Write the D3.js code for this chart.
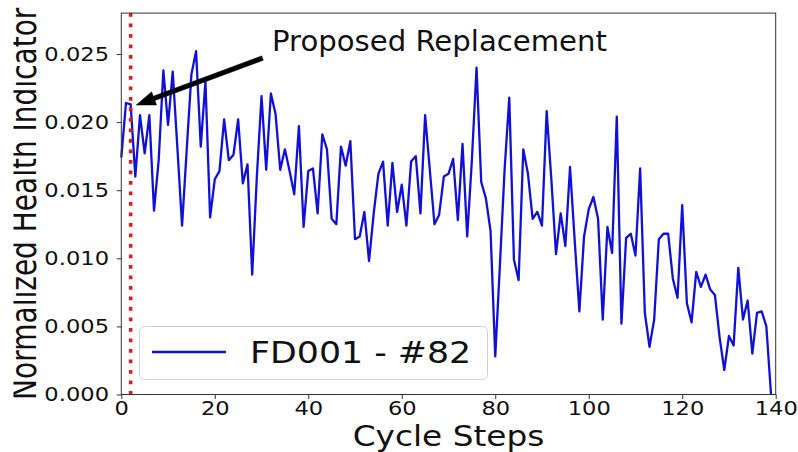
<!DOCTYPE html>
<html>
<head>
<meta charset="utf-8">
<script src="https://cdn.jsdelivr.net/npm/d3@7"></script>
<style>
  html, body { margin: 0; padding: 0; background: #fff; }
  svg { display: block; font-family: "DejaVu Sans", sans-serif; }
</style>
</head>
<body>
<svg id="chart" width="798" height="452"></svg>
<script>
// ---- data ----
const cycleValues = [
  0.0174, 0.0214, 0.0213, 0.0160, 0.0205, 0.0177, 0.0205, 0.0135, 0.0172, 0.0238,
  0.0198, 0.0237, 0.0181, 0.0124, 0.0180, 0.0235, 0.0252, 0.0182, 0.0230, 0.0130,
  0.0158, 0.0164, 0.0202, 0.0172, 0.0176, 0.0202, 0.0155, 0.0169, 0.0088, 0.0160,
  0.0219, 0.0165, 0.0221, 0.0206, 0.0165, 0.0180, 0.0164, 0.0147, 0.0197, 0.0123,
  0.0164, 0.0166, 0.0133, 0.0191, 0.0180, 0.0129, 0.0125, 0.0182, 0.0168, 0.0186,
  0.0114, 0.0116, 0.0134, 0.0098, 0.0133, 0.0162, 0.0171, 0.0124, 0.0170, 0.0134,
  0.0154, 0.0124, 0.0171, 0.0175, 0.0133, 0.0205, 0.0165, 0.0125, 0.0132, 0.0160,
  0.0162, 0.0173, 0.0128, 0.0184, 0.0116, 0.0172, 0.0240, 0.0156, 0.0144, 0.0120,
  0.0028, 0.0095, 0.0165, 0.0218, 0.0099, 0.0084, 0.0180, 0.0162, 0.0129, 0.0134,
  0.0124, 0.0208, 0.0158, 0.0103, 0.0133, 0.0109, 0.0167, 0.0113, 0.0061, 0.0116,
  0.0136, 0.0145, 0.0129, 0.0055, 0.0123, 0.0104, 0.0204, 0.0052, 0.0115, 0.0118,
  0.0102, 0.0166, 0.0060, 0.0035, 0.0055, 0.0114, 0.0118, 0.0118, 0.0085, 0.0071,
  0.0139, 0.0067, 0.0053, 0.0090, 0.0079, 0.0088, 0.0077, 0.0073, 0.0042, 0.0018,
  0.0043, 0.0036, 0.0093, 0.0055, 0.0069, 0.0030, 0.0060, 0.0061, 0.0050, 0.0000
];
const seriesName = "FD001 - #82";
const replacementCycle = 2;
const xTicks = [0, 20, 40, 60, 80, 100, 120, 140];
const yTicks = [0.000, 0.005, 0.010, 0.015, 0.020, 0.025];
const xDomain = [0, 140];
const yDomain = [0, 0.028];
const xTitle = "Cycle Steps";
const yTitle = "Normalized Health Indicator";
const annotationText = "Proposed Replacement";

// ---- layout ----
const svg = d3.select("#chart");
const L = 121.3, R = 775.7, T = 13.1, B = 394.5;
const x = d3.scaleLinear().domain(xDomain).range([L, R]);
const y = d3.scaleLinear().domain(yDomain).range([B, T]);
const ink = "#111";

// clip for the y title (its tops are cut in the reference)
const defs = svg.append("defs");
defs.append("clipPath").attr("id", "ytclip")
  .append("rect").attr("x", 13.5).attr("y", 0).attr("width", 200).attr("height", 452);

// line series
const line = d3.line().x((d, i) => x(i)).y(d => y(d));
svg.append("path")
  .datum(cycleValues)
  .attr("d", line)
  .attr("fill", "none")
  .attr("stroke", "#1010d8")
  .attr("stroke-width", 2.3)
  .attr("stroke-linejoin", "round");

// replacement marker (red dotted)
svg.append("line")
  .attr("x1", x(replacementCycle)).attr("x2", x(replacementCycle))
  .attr("y1", y(yDomain[1])).attr("y2", y(yDomain[0]))
  .attr("stroke", "#dd1c1c")
  .attr("stroke-width", 3.6)
  .attr("stroke-dasharray", "3.6 6.9");

// axes frame
svg.append("rect")
  .attr("x", L).attr("y", T).attr("width", R - L).attr("height", B - T)
  .attr("fill", "none").attr("stroke", "#333").attr("stroke-width", 1);

// x axis
const xAxis = svg.append("g")
  .attr("transform", `translate(0,${B})`)
  .call(d3.axisBottom(x).tickValues(xTicks).tickFormat(d3.format("d")).tickSize(4.5).tickPadding(1.5));
xAxis.select(".domain").remove();
xAxis.selectAll("line").attr("stroke", "#333");
xAxis.selectAll("text")
  .attr("fill", ink).attr("font-size", 20).attr("font-family", "DejaVu Sans")
  .attr("transform", "scale(1.13,1)");

// y axis
const yAxis = svg.append("g")
  .attr("transform", `translate(${L},0)`)
  .call(d3.axisLeft(y).tickValues(yTicks).tickFormat(d3.format(".3f")).tickSize(4.5));
yAxis.select(".domain").remove();
yAxis.selectAll("line").attr("stroke", "#333");
yAxis.selectAll("text")
  .attr("fill", ink).attr("font-size", 20).attr("font-family", "DejaVu Sans")
  .attr("x", -12.3 / 1.13)
  .attr("transform", "scale(1.13,1)");

// axis titles
svg.append("text")
  .attr("transform", `translate(${(L + R) / 2},446) scale(1.13,1)`)
  .attr("text-anchor", "middle")
  .attr("font-size", 29).attr("fill", ink)
  .text(xTitle);

svg.append("g").attr("clip-path", "url(#ytclip)")
  .append("text")
  .attr("transform", `translate(35.5,${(T + B) / 2}) scale(1.25,1) rotate(-90)`)
  .attr("text-anchor", "middle")
  .attr("font-size", 28).attr("fill", ink)
  .text(yTitle);

// annotation arrow
const tip = [x(3.2), y(0.02125)];
const tail = [x(30.2), y(0.0247)];
(function drawArrow() {
  const dx = tip[0] - tail[0], dy = tip[1] - tail[1];
  const len = Math.hypot(dx, dy);
  const ux = dx / len, uy = dy / len;
  const nx = -uy, ny = ux;
  const shaftW = 4.6, headW = 14, headL = 19;
  const bx = tip[0] - ux * headL, by = tip[1] - uy * headL;
  const pts = [
    [tail[0] + nx * shaftW / 2, tail[1] + ny * shaftW / 2],
    [bx + nx * shaftW / 2, by + ny * shaftW / 2],
    [bx + nx * headW / 2, by + ny * headW / 2],
    tip,
    [bx - nx * headW / 2, by - ny * headW / 2],
    [bx - nx * shaftW / 2, by - ny * shaftW / 2],
    [tail[0] - nx * shaftW / 2, tail[1] - ny * shaftW / 2]
  ];
  svg.append("polygon")
    .attr("points", pts.map(p => p.join(",")).join(" "))
    .attr("fill", "#000").attr("stroke", "#000").attr("stroke-width", 0.5);
})();

svg.append("text")
  .attr("transform", "translate(272,51) scale(1.06,1)")
  .attr("font-size", 27.5).attr("fill", ink)
  .text(annotationText);

// legend
const lg = svg.append("g");
lg.append("rect")
  .attr("x", 139.5).attr("y", 326.5).attr("width", 348).attr("height", 53).attr("rx", 5)
  .attr("fill", "#fff").attr("fill-opacity", 0.85)
  .attr("stroke", "#d0d0d0").attr("stroke-width", 1);
lg.append("line")
  .attr("x1", 152).attr("x2", 226).attr("y1", 352).attr("y2", 352)
  .attr("stroke", "#1010d8").attr("stroke-width", 2.3);
lg.append("text")
  .attr("transform", "translate(250,363) scale(1.16,1)")
  .attr("font-size", 30).attr("fill", ink)
  .text(seriesName);
</script>
</body>
</html>
